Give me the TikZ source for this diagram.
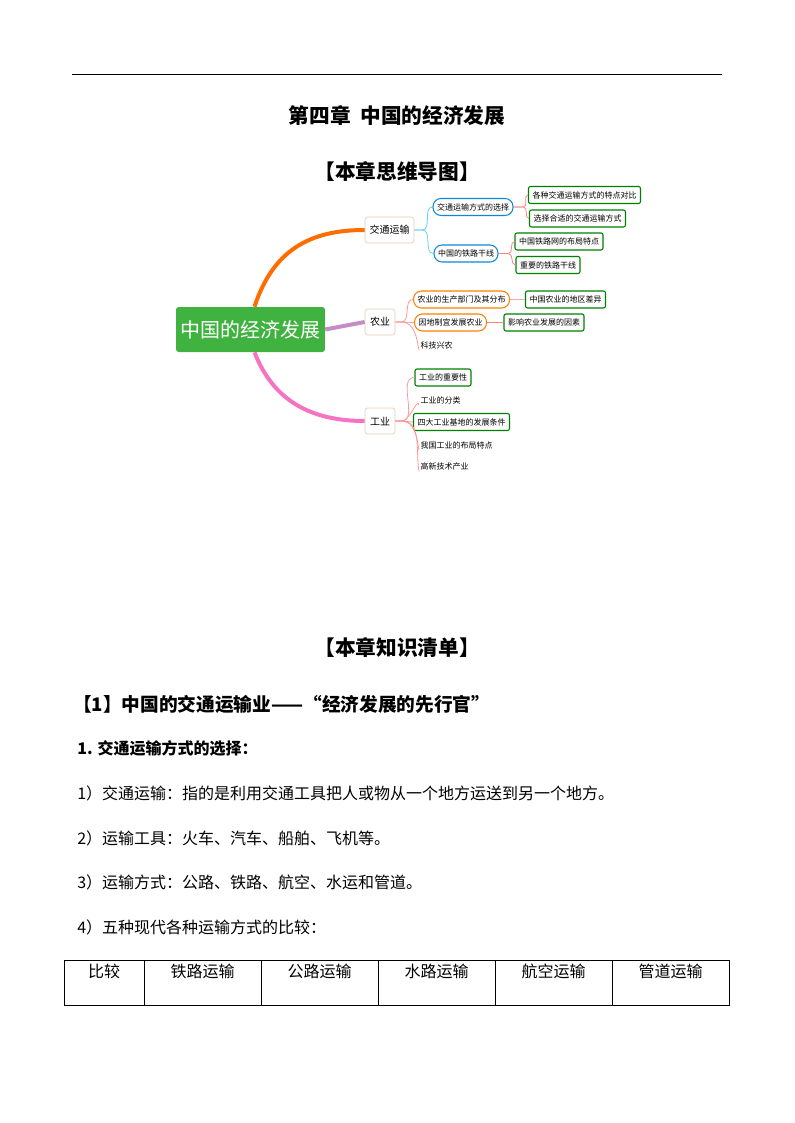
\documentclass[tikz,border=0pt]{standalone}
\usepackage{fontspec}
\newfontfamily\cjk{Noto Sans CJK SC}
\begin{document}
\begin{tikzpicture}[x=0.75pt,y=-0.75pt,font=\cjk,
 lone/.style={draw=#1,rounded corners=2pt,line width=0.5pt,fill=white,inner sep=0pt,minimum height=26*0.75pt,anchor=center},
 l2/.style={draw=#1,rounded corners=6pt,line width=0.8pt,fill=white,font=\cjk\fontsize{6}{7}\selectfont,inner xsep=3pt,minimum height=17*0.75pt},
 l3/.style={draw=green!50!black,rounded corners=1.5pt,line width=0.8pt,fill=white,font=\cjk\fontsize{6}{7}\selectfont,inner xsep=3pt,minimum height=17*0.75pt},
 lt/.style={font=\cjk\fontsize{6}{7}\selectfont,inner sep=1pt,anchor=west},
 body/.style={anchor=west,font=\cjk\fontsize{12}{14}\selectfont,inner sep=0pt},
 hd/.style={font=\cjk\bfseries\fontsize{14}{16}\selectfont,inner sep=0pt}]
\useasboundingbox (0,0) rectangle (794,1123);
\draw[line width=0.6pt] (72,74) -- (722,74);
\node[hd,font=\cjk\bfseries\fontsize{15.5}{18}\selectfont] (t1) at (397,116) {第四章\ \ 中国的经济发展};
\node[hd,font=\cjk\bfseries\fontsize{15.5}{18}\selectfont] (t2) at (397,172) {【本章思维导图】};
% mind map
\node[fill=green!55!teal!70!white,fill=green!60!black!75!white,rounded corners=2pt,minimum width=143*0.75pt,minimum height=45*0.75pt,text=white,font=\cjk\fontsize{15}{17}\selectfont] (c) at (250.5,329.5) {中国的经济发展};
\node[lone=brown!40,minimum width=49*0.75pt,font=\cjk\fontsize{7.5}{9}\selectfont] (a) at (389.5,230) {交通运输};
\node[lone=brown!40,minimum width=30*0.75pt,font=\cjk\fontsize{7.5}{9}\selectfont] (b) at (380,322) {农业};
\node[lone=brown!40,minimum width=30*0.75pt,font=\cjk\fontsize{7.5}{9}\selectfont] (d) at (380,421) {工业};
\draw[line width=3pt,orange!85!red] (c.north) ++(4,0) coordinate (co) .. controls (273,250) and (310,230) .. (a.west);
\draw[line width=3pt,violet!45] (c.east) -- (b.west);
\draw[line width=3pt,magenta!55] (c.south) ++(4,0) .. controls (273,400) and (310,421) .. (d.west);
\node[l2=cyan!70!blue] (a1) at (473,207) {交通运输方式的选择};
\node[l2=cyan!70!blue] (a2) at (466,253.5) {中国的铁路干线};
\node[l3] (a11) at (584.5,195) {各种交通运输方式的特点对比};
\node[l3] (a12) at (577.5,218.5) {选择合适的交通运输方式};
\node[l3] (a21) at (559,241.5) {中国铁路网的布局特点};
\node[l3] (a22) at (548,265) {重要的铁路干线};
\foreach \n in {a1,a2}{\draw[cyan!60,line width=0.6pt] (a.east) -- ++(8,0) to[out=0,in=180] (\n.west);}
\foreach \n in {a11,a12}{\draw[red!50,line width=0.6pt] (a1.east) -- ++(10,0) to[out=0,in=180] (\n.west);}
\foreach \n in {a21,a22}{\draw[red!50,line width=0.6pt] (a2.east) -- ++(10,0) to[out=0,in=180] (\n.west);}
\node[l2=orange] (b1) at (461.5,299.5) {农业的生产部门及其分布};
\node[l2=orange] (b2) at (450.5,322.5) {因地制宜发展农业};
\node[lt] (b3) at (419,345) {科技兴农};
\node[l3] (b11) at (565.5,299.5) {中国农业的地区差异};
\node[l3] (b21) at (544,322.5) {影响农业发展的因素};
\foreach \n in {b1,b2}{\draw[red!40,line width=0.6pt] (b.east) -- ++(6,0) to[out=0,in=180] (\n.west);}
\draw[red!40,line width=0.6pt] (b.east) -- ++(6,0) to[out=0,in=100] (b3.south west);
\draw[red!35,line width=0.6pt] (b1.east) -- (b11.west);
\draw[red!50,line width=0.6pt] (b2.east) -- (b21.west);
\node[l3] (d1) at (443,377.5) {工业的重要性};
\node[lt] (d2) at (419,400) {工业的分类};
\node[l3] (d3) at (461.5,422) {四大工业基地的发展条件};
\node[lt] (d4) at (419,445) {我国工业的布局特点};
\node[lt] (d5) at (419,466) {高新技术产业};
\foreach \n in {d1,d3}{\draw[red!40,line width=0.6pt] (d.east) -- ++(6,0) to[out=0,in=180] (\n.west);}
\foreach \n in {d2,d4,d5}{\draw[red!40,line width=0.6pt] (d.east) -- ++(6,0) to[out=0,in=100] (\n.south west);}
% knowledge list
\node[hd,font=\cjk\bfseries\fontsize{15.5}{18}\selectfont] (t3) at (397,648) {【本章知识清单】};
\node[hd,anchor=west] (s1) at (73,704) {【1】中国的交通运输业——“经济发展的先行官”};
\node[hd,anchor=west,font=\cjk\bfseries\fontsize{12}{14}\selectfont] (s2) at (77,748) {1. 交通运输方式的选择：};
\node[body] (p1) at (77,793) {1）交通运输：指的是利用交通工具把人或物从一个地方运送到另一个地方。};
\node[body] (p2) at (77,838) {2）运输工具：火车、汽车、船舶、飞机等。};
\node[body] (p3) at (77,882) {3）运输方式：公路、铁路、航空、水运和管道。};
\node[body] (p4) at (77,927) {4）五种现代各种运输方式的比较：};
% table
\draw[line width=0.6pt] (64,960) rectangle (729,1005);
\foreach \x in {144,261,378,495,612}{\draw[line width=0.6pt] (\x,960) -- (\x,1005);}
\foreach \t/\x in {比较/104,铁路运输/202.5,公路运输/319.5,水路运输/436.5,航空运输/553.5,管道运输/670.5}{
 \node[font=\cjk\fontsize{12}{14}\selectfont,inner sep=0pt] at (\x,971) {\t};}
\end{tikzpicture}
\end{document}
